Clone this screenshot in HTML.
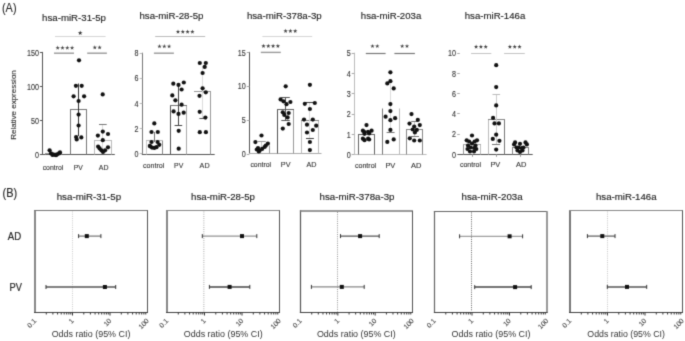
<!DOCTYPE html>
<html><head><meta charset="utf-8"><style>
html,body{margin:0;padding:0;background:#fff;}
body{width:685px;height:341px;overflow:hidden;}
svg{display:block;font-family:"Liberation Sans", sans-serif;}
#w{filter:grayscale(1);width:685px;height:341px;}
text{stroke:#333;stroke-width:0.3px;}
</style></head><body>
<div id="w"><svg width="685" height="341" viewBox="0 0 685 341">
<defs><filter id="bl" x="0" y="0" width="685" height="341" filterUnits="userSpaceOnUse" color-interpolation-filters="sRGB"><feConvolveMatrix order="3" kernelMatrix="0.0192 0.1001 0.0192 0.1001 0.5228 0.1001 0.0192 0.1001 0.0192" divisor="1" preserveAlpha="false" edgeMode="duplicate"/></filter></defs>
<rect width="685" height="341" fill="#fff"/>
<g filter="url(#bl)">
<rect width="685" height="341" fill="#fff"/>
<text x="2.00" y="12.30" font-size="12.8" text-anchor="start" fill="#222" style="stroke-width:0.08px" textLength="14.50" lengthAdjust="spacingAndGlyphs" >(A)</text>
<text x="42.10" y="20.50" font-size="9.9" text-anchor="start" fill="#1a1a1a" style="stroke-width:0.15px" textLength="63.90" lengthAdjust="spacingAndGlyphs" >hsa-miR-31-5p</text>
<text x="139.40" y="19.30" font-size="9.9" text-anchor="start" fill="#1a1a1a" style="stroke-width:0.15px" textLength="64.10" lengthAdjust="spacingAndGlyphs" >hsa-miR-28-5p</text>
<text x="246.90" y="19.20" font-size="9.9" text-anchor="start" fill="#1a1a1a" style="stroke-width:0.15px" textLength="74.80" lengthAdjust="spacingAndGlyphs" >hsa-miR-378a-3p</text>
<text x="360.80" y="19.40" font-size="9.9" text-anchor="start" fill="#1a1a1a" style="stroke-width:0.15px" textLength="60.50" lengthAdjust="spacingAndGlyphs" >hsa-miR-203a</text>
<text x="464.70" y="19.30" font-size="9.9" text-anchor="start" fill="#1a1a1a" style="stroke-width:0.15px" textLength="60.60" lengthAdjust="spacingAndGlyphs" >hsa-miR-146a</text>
<text x="0" y="0" font-size="8" fill="#333" text-anchor="middle" style="stroke-width:0.12px" transform="translate(15.8,105) rotate(-90)" textLength="69.5" lengthAdjust="spacingAndGlyphs">Relative expression</text>
<line x1="42.50" y1="154.30" x2="42.50" y2="51.90" stroke="#555" stroke-width="1" />
<line x1="39.90" y1="154.50" x2="42.50" y2="154.50" stroke="#555" stroke-width="1" />
<text x="39.00" y="157.60" font-size="9.2" text-anchor="end" fill="#333" style="stroke-width:0.12px" textLength="4.00" lengthAdjust="spacingAndGlyphs" >0</text>
<line x1="39.90" y1="120.50" x2="42.50" y2="120.50" stroke="#555" stroke-width="1" />
<text x="39.00" y="123.60" font-size="9.2" text-anchor="end" fill="#333" style="stroke-width:0.12px" textLength="8.00" lengthAdjust="spacingAndGlyphs" >50</text>
<line x1="39.90" y1="86.50" x2="42.50" y2="86.50" stroke="#555" stroke-width="1" />
<text x="39.00" y="89.60" font-size="9.2" text-anchor="end" fill="#333" style="stroke-width:0.12px" textLength="12.00" lengthAdjust="spacingAndGlyphs" >100</text>
<line x1="39.90" y1="52.50" x2="42.50" y2="52.50" stroke="#555" stroke-width="1" />
<text x="39.00" y="55.60" font-size="9.2" text-anchor="end" fill="#333" style="stroke-width:0.12px" textLength="12.00" lengthAdjust="spacingAndGlyphs" >150</text>
<line x1="42.00" y1="154.50" x2="114.80" y2="154.50" stroke="#555" stroke-width="1" />
<line x1="45.50" y1="153.50" x2="45.50" y2="154.50" stroke="#999" stroke-width="1" />
<line x1="61.50" y1="153.50" x2="61.50" y2="154.50" stroke="#999" stroke-width="1" />
<line x1="45.00" y1="153.50" x2="62.00" y2="153.50" stroke="#999" stroke-width="1" />
<line x1="70.50" y1="109.50" x2="70.50" y2="154.50" stroke="#777" stroke-width="1" />
<line x1="86.50" y1="109.50" x2="86.50" y2="154.50" stroke="#777" stroke-width="1" />
<line x1="70.00" y1="109.50" x2="87.00" y2="109.50" stroke="#777" stroke-width="1" />
<line x1="94.50" y1="140.50" x2="94.50" y2="154.50" stroke="#bbb" stroke-width="1" />
<line x1="111.50" y1="140.50" x2="111.50" y2="154.50" stroke="#bbb" stroke-width="1" />
<line x1="94.00" y1="140.50" x2="112.00" y2="140.50" stroke="#bbb" stroke-width="1" />
<line x1="78.50" y1="83.50" x2="78.50" y2="136.00" stroke="#333" stroke-width="1" />
<line x1="102.50" y1="124.30" x2="102.50" y2="154.00" stroke="#ddd" stroke-width="1" />
<line x1="99.00" y1="124.50" x2="106.70" y2="124.50" stroke="#777" stroke-width="1" />
<line x1="55.00" y1="36.50" x2="105.60" y2="36.50" stroke="#d0d0d0" stroke-width="0.9" />
<polygon points="80.20,30.50 80.79,32.19 82.58,32.23 81.15,33.31 81.67,35.02 80.20,34.00 78.73,35.02 79.25,33.31 77.82,32.23 79.61,32.19" fill="#333"/>
<line x1="54.00" y1="53.20" x2="74.00" y2="53.20" stroke="#999" stroke-width="1.4" />
<polygon points="57.70,45.60 58.23,47.17 59.89,47.19 58.56,48.18 59.05,49.76 57.70,48.80 56.35,49.76 56.84,48.18 55.51,47.19 57.17,47.17" fill="#444"/>
<polygon points="62.50,45.60 63.03,47.17 64.69,47.19 63.36,48.18 63.85,49.76 62.50,48.80 61.15,49.76 61.64,48.18 60.31,47.19 61.97,47.17" fill="#444"/>
<polygon points="67.30,45.60 67.83,47.17 69.49,47.19 68.16,48.18 68.65,49.76 67.30,48.80 65.95,49.76 66.44,48.18 65.11,47.19 66.77,47.17" fill="#444"/>
<polygon points="72.10,45.60 72.63,47.17 74.29,47.19 72.96,48.18 73.45,49.76 72.10,48.80 70.75,49.76 71.24,48.18 69.91,47.19 71.57,47.17" fill="#444"/>
<line x1="87.20" y1="53.20" x2="106.90" y2="53.20" stroke="#999" stroke-width="1.4" />
<polygon points="94.80,45.20 95.33,46.77 96.99,46.79 95.66,47.78 96.15,49.36 94.80,48.40 93.45,49.36 93.94,47.78 92.61,46.79 94.27,46.77" fill="#444"/>
<polygon points="99.60,45.20 100.13,46.77 101.79,46.79 100.46,47.78 100.95,49.36 99.60,48.40 98.25,49.36 98.74,47.78 97.41,46.79 99.07,46.77" fill="#444"/>
<circle cx="79.00" cy="60.30" r="2.1" fill="#111"/>
<circle cx="75.90" cy="85.80" r="2.1" fill="#111"/>
<circle cx="81.70" cy="85.80" r="2.1" fill="#111"/>
<circle cx="73.60" cy="96.30" r="2.1" fill="#111"/>
<circle cx="84.10" cy="96.30" r="2.1" fill="#111"/>
<circle cx="78.60" cy="101.00" r="2.1" fill="#111"/>
<circle cx="78.60" cy="114.60" r="2.1" fill="#111"/>
<circle cx="78.60" cy="125.50" r="2.1" fill="#111"/>
<circle cx="76.10" cy="137.10" r="2.1" fill="#111"/>
<circle cx="76.70" cy="139.40" r="2.1" fill="#111"/>
<circle cx="81.30" cy="137.40" r="2.1" fill="#111"/>
<circle cx="102.70" cy="94.40" r="2.1" fill="#111"/>
<circle cx="102.80" cy="131.60" r="2.1" fill="#111"/>
<circle cx="97.90" cy="135.60" r="2.1" fill="#111"/>
<circle cx="108.00" cy="134.00" r="2.1" fill="#111"/>
<circle cx="102.80" cy="140.20" r="2.1" fill="#111"/>
<circle cx="98.10" cy="146.60" r="2.1" fill="#111"/>
<circle cx="99.60" cy="148.40" r="2.1" fill="#111"/>
<circle cx="101.40" cy="150.30" r="2.1" fill="#111"/>
<circle cx="103.00" cy="151.90" r="2.1" fill="#111"/>
<circle cx="105.10" cy="150.30" r="2.1" fill="#111"/>
<circle cx="108.00" cy="147.30" r="2.1" fill="#111"/>
<circle cx="49.60" cy="150.30" r="2.1" fill="#111"/>
<circle cx="51.00" cy="153.40" r="2.1" fill="#111"/>
<circle cx="53.00" cy="154.40" r="2.1" fill="#111"/>
<circle cx="55.00" cy="154.80" r="2.1" fill="#111"/>
<circle cx="57.00" cy="154.40" r="2.1" fill="#111"/>
<circle cx="59.00" cy="153.40" r="2.1" fill="#111"/>
<circle cx="60.00" cy="152.40" r="2.1" fill="#111"/>
<circle cx="52.50" cy="155.00" r="2.1" fill="#111"/>
<circle cx="56.00" cy="155.20" r="2.1" fill="#111"/>
<text x="53.00" y="169.90" font-size="7.7" text-anchor="middle" fill="#333" style="stroke-width:0.12px" textLength="20.60" lengthAdjust="spacingAndGlyphs" >control</text>
<text x="78.25" y="169.90" font-size="7.7" text-anchor="middle" fill="#333" style="stroke-width:0.12px" textLength="9.10" lengthAdjust="spacingAndGlyphs" >PV</text>
<text x="103.65" y="169.90" font-size="7.7" text-anchor="middle" fill="#333" style="stroke-width:0.12px" textLength="9.70" lengthAdjust="spacingAndGlyphs" >AD</text>
<line x1="142.50" y1="154.30" x2="142.50" y2="52.70" stroke="#777" stroke-width="1" />
<line x1="139.70" y1="153.50" x2="142.30" y2="153.50" stroke="#bbb" stroke-width="1" />
<text x="138.60" y="156.60" font-size="9.2" text-anchor="end" fill="#333" style="stroke-width:0.12px" textLength="4.00" lengthAdjust="spacingAndGlyphs" >0</text>
<line x1="139.70" y1="128.50" x2="142.30" y2="128.50" stroke="#bbb" stroke-width="1" />
<text x="138.60" y="131.55" font-size="9.2" text-anchor="end" fill="#333" style="stroke-width:0.12px" textLength="4.00" lengthAdjust="spacingAndGlyphs" >2</text>
<line x1="139.70" y1="103.50" x2="142.30" y2="103.50" stroke="#bbb" stroke-width="1" />
<text x="138.60" y="106.50" font-size="9.2" text-anchor="end" fill="#333" style="stroke-width:0.12px" textLength="4.00" lengthAdjust="spacingAndGlyphs" >4</text>
<line x1="139.70" y1="78.50" x2="142.30" y2="78.50" stroke="#bbb" stroke-width="1" />
<text x="138.60" y="81.45" font-size="9.2" text-anchor="end" fill="#333" style="stroke-width:0.12px" textLength="4.00" lengthAdjust="spacingAndGlyphs" >6</text>
<line x1="139.70" y1="53.50" x2="142.30" y2="53.50" stroke="#bbb" stroke-width="1" />
<text x="138.60" y="56.40" font-size="9.2" text-anchor="end" fill="#333" style="stroke-width:0.12px" textLength="4.00" lengthAdjust="spacingAndGlyphs" >8</text>
<line x1="141.80" y1="154.50" x2="214.70" y2="154.50" stroke="#555" stroke-width="1" />
<line x1="146.50" y1="140.50" x2="146.50" y2="154.50" stroke="#ccc" stroke-width="1" />
<line x1="162.50" y1="140.50" x2="162.50" y2="154.50" stroke="#888" stroke-width="1" />
<line x1="146.00" y1="140.50" x2="163.00" y2="140.50" stroke="#bbb" stroke-width="1" />
<line x1="170.50" y1="105.50" x2="170.50" y2="154.50" stroke="#555" stroke-width="1" />
<line x1="186.50" y1="105.50" x2="186.50" y2="154.50" stroke="#aaa" stroke-width="1" />
<line x1="170.00" y1="105.50" x2="187.00" y2="105.50" stroke="#777" stroke-width="1" />
<line x1="210.50" y1="91.50" x2="210.50" y2="154.50" stroke="#999" stroke-width="1" />
<line x1="194.00" y1="91.50" x2="211.00" y2="91.50" stroke="#999" stroke-width="1" />
<line x1="154.50" y1="132.00" x2="154.50" y2="142.00" stroke="#777" stroke-width="1" />
<line x1="178.50" y1="84.00" x2="178.50" y2="125.50" stroke="#444" stroke-width="1" />
<line x1="202.50" y1="66.00" x2="202.50" y2="118.20" stroke="#ddd" stroke-width="1" />
<line x1="174.60" y1="125.50" x2="182.20" y2="125.50" stroke="#444" stroke-width="1" />
<line x1="199.40" y1="118.50" x2="205.40" y2="118.50" stroke="#555" stroke-width="1" />
<line x1="155.20" y1="36.50" x2="205.20" y2="36.50" stroke="#bbb" stroke-width="1.0" />
<polygon points="178.00,29.50 178.53,31.07 180.19,31.09 178.86,32.08 179.35,33.66 178.00,32.70 176.65,33.66 177.14,32.08 175.81,31.09 177.47,31.07" fill="#444"/>
<polygon points="182.80,29.50 183.33,31.07 184.99,31.09 183.66,32.08 184.15,33.66 182.80,32.70 181.45,33.66 181.94,32.08 180.61,31.09 182.27,31.07" fill="#444"/>
<polygon points="187.60,29.50 188.13,31.07 189.79,31.09 188.46,32.08 188.95,33.66 187.60,32.70 186.25,33.66 186.74,32.08 185.41,31.09 187.07,31.07" fill="#444"/>
<polygon points="192.40,29.50 192.93,31.07 194.59,31.09 193.26,32.08 193.75,33.66 192.40,32.70 191.05,33.66 191.54,32.08 190.21,31.09 191.87,31.07" fill="#444"/>
<line x1="153.90" y1="53.20" x2="173.90" y2="53.20" stroke="#999" stroke-width="1.4" />
<polygon points="159.50,44.10 160.03,45.67 161.69,45.69 160.36,46.68 160.85,48.26 159.50,47.30 158.15,48.26 158.64,46.68 157.31,45.69 158.97,45.67" fill="#444"/>
<polygon points="164.30,44.10 164.83,45.67 166.49,45.69 165.16,46.68 165.65,48.26 164.30,47.30 162.95,48.26 163.44,46.68 162.11,45.69 163.77,45.67" fill="#444"/>
<polygon points="169.10,44.10 169.63,45.67 171.29,45.69 169.96,46.68 170.45,48.26 169.10,47.30 167.75,48.26 168.24,46.68 166.91,45.69 168.57,45.67" fill="#444"/>
<circle cx="173.30" cy="83.70" r="2.1" fill="#111"/>
<circle cx="178.50" cy="84.90" r="2.1" fill="#111"/>
<circle cx="183.80" cy="82.50" r="2.1" fill="#111"/>
<circle cx="181.60" cy="89.50" r="2.1" fill="#111"/>
<circle cx="172.30" cy="95.40" r="2.1" fill="#111"/>
<circle cx="175.40" cy="100.30" r="2.1" fill="#111"/>
<circle cx="181.60" cy="104.70" r="2.1" fill="#111"/>
<circle cx="173.60" cy="111.40" r="2.1" fill="#111"/>
<circle cx="178.50" cy="113.90" r="2.1" fill="#111"/>
<circle cx="183.70" cy="112.70" r="2.1" fill="#111"/>
<circle cx="178.70" cy="130.80" r="2.1" fill="#111"/>
<circle cx="178.70" cy="148.70" r="2.1" fill="#111"/>
<circle cx="199.80" cy="63.00" r="2.1" fill="#111"/>
<circle cx="205.80" cy="63.00" r="2.1" fill="#111"/>
<circle cx="204.70" cy="66.90" r="2.1" fill="#111"/>
<circle cx="202.60" cy="73.00" r="2.1" fill="#111"/>
<circle cx="202.60" cy="88.30" r="2.1" fill="#111"/>
<circle cx="205.80" cy="92.30" r="2.1" fill="#111"/>
<circle cx="199.50" cy="95.80" r="2.1" fill="#111"/>
<circle cx="199.70" cy="111.80" r="2.1" fill="#111"/>
<circle cx="205.40" cy="117.60" r="2.1" fill="#111"/>
<circle cx="199.80" cy="132.20" r="2.1" fill="#111"/>
<circle cx="205.90" cy="132.20" r="2.1" fill="#111"/>
<circle cx="154.30" cy="123.40" r="2.1" fill="#111"/>
<circle cx="151.50" cy="132.00" r="2.1" fill="#111"/>
<circle cx="157.80" cy="132.00" r="2.1" fill="#111"/>
<circle cx="151.50" cy="142.00" r="2.1" fill="#111"/>
<circle cx="157.60" cy="142.00" r="2.1" fill="#111"/>
<circle cx="149.80" cy="145.90" r="2.1" fill="#111"/>
<circle cx="159.30" cy="144.80" r="2.1" fill="#111"/>
<circle cx="152.00" cy="147.60" r="2.1" fill="#111"/>
<circle cx="154.30" cy="147.90" r="2.1" fill="#111"/>
<circle cx="156.50" cy="147.20" r="2.1" fill="#111"/>
<circle cx="150.40" cy="146.50" r="2.1" fill="#111"/>
<text x="153.65" y="167.60" font-size="7.7" text-anchor="middle" fill="#333" style="stroke-width:0.12px" textLength="21.30" lengthAdjust="spacingAndGlyphs" >control</text>
<text x="178.70" y="167.60" font-size="7.7" text-anchor="middle" fill="#333" style="stroke-width:0.12px" textLength="9.20" lengthAdjust="spacingAndGlyphs" >PV</text>
<text x="204.60" y="167.60" font-size="7.7" text-anchor="middle" fill="#333" style="stroke-width:0.12px" textLength="10.00" lengthAdjust="spacingAndGlyphs" >AD</text>
<line x1="249.50" y1="153.30" x2="249.50" y2="51.90" stroke="#555" stroke-width="1" />
<line x1="246.80" y1="154.50" x2="249.40" y2="154.50" stroke="#aaa" stroke-width="1" />
<text x="245.80" y="157.20" font-size="9.2" text-anchor="end" fill="#333" style="stroke-width:0.12px" textLength="4.00" lengthAdjust="spacingAndGlyphs" >0</text>
<line x1="246.80" y1="120.50" x2="249.40" y2="120.50" stroke="#aaa" stroke-width="1" />
<text x="245.80" y="123.33" font-size="9.2" text-anchor="end" fill="#333" style="stroke-width:0.12px" textLength="4.00" lengthAdjust="spacingAndGlyphs" >5</text>
<line x1="246.80" y1="86.50" x2="249.40" y2="86.50" stroke="#aaa" stroke-width="1" />
<text x="245.80" y="89.47" font-size="9.2" text-anchor="end" fill="#333" style="stroke-width:0.12px" textLength="8.00" lengthAdjust="spacingAndGlyphs" >10</text>
<line x1="246.80" y1="52.50" x2="249.40" y2="52.50" stroke="#aaa" stroke-width="1" />
<text x="245.80" y="55.60" font-size="9.2" text-anchor="end" fill="#333" style="stroke-width:0.12px" textLength="8.00" lengthAdjust="spacingAndGlyphs" >15</text>
<line x1="248.90" y1="153.50" x2="321.50" y2="153.50" stroke="#aaa" stroke-width="1" />
<line x1="269.50" y1="145.50" x2="269.50" y2="153.50" stroke="#999" stroke-width="1" />
<line x1="277.50" y1="109.50" x2="277.50" y2="153.50" stroke="#555" stroke-width="1" />
<line x1="293.50" y1="109.50" x2="293.50" y2="153.50" stroke="#999" stroke-width="1" />
<line x1="277.00" y1="109.50" x2="294.00" y2="109.50" stroke="#666" stroke-width="1" />
<line x1="301.50" y1="120.50" x2="301.50" y2="153.50" stroke="#bbb" stroke-width="1" />
<line x1="318.50" y1="120.50" x2="318.50" y2="153.50" stroke="#bbb" stroke-width="1" />
<line x1="301.00" y1="120.50" x2="319.00" y2="120.50" stroke="#888" stroke-width="1" />
<line x1="285.50" y1="97.30" x2="285.50" y2="120.30" stroke="#555" stroke-width="1" />
<line x1="309.50" y1="102.30" x2="309.50" y2="138.30" stroke="#ddd" stroke-width="1" />
<line x1="261.50" y1="141.00" x2="261.50" y2="148.00" stroke="#ccc" stroke-width="1" />
<line x1="281.30" y1="97.50" x2="289.80" y2="97.50" stroke="#555" stroke-width="1" />
<line x1="281.30" y1="120.50" x2="289.80" y2="120.50" stroke="#555" stroke-width="1" />
<line x1="304.80" y1="102.50" x2="314.80" y2="102.50" stroke="#444" stroke-width="1" />
<line x1="306.00" y1="138.50" x2="313.90" y2="138.50" stroke="#444" stroke-width="1" />
<line x1="257.60" y1="141.50" x2="265.80" y2="141.50" stroke="#999" stroke-width="1" />
<line x1="262.40" y1="36.50" x2="312.20" y2="36.50" stroke="#d0d0d0" stroke-width="0.9" />
<polygon points="285.60,28.80 286.13,30.37 287.79,30.39 286.46,31.38 286.95,32.96 285.60,32.00 284.25,32.96 284.74,31.38 283.41,30.39 285.07,30.37" fill="#444"/>
<polygon points="290.40,28.80 290.93,30.37 292.59,30.39 291.26,31.38 291.75,32.96 290.40,32.00 289.05,32.96 289.54,31.38 288.21,30.39 289.87,30.37" fill="#444"/>
<polygon points="295.20,28.80 295.73,30.37 297.39,30.39 296.06,31.38 296.55,32.96 295.20,32.00 293.85,32.96 294.34,31.38 293.01,30.39 294.67,30.37" fill="#444"/>
<line x1="260.80" y1="52.40" x2="280.80" y2="52.40" stroke="#999" stroke-width="1.4" />
<polygon points="263.50,43.80 264.03,45.37 265.69,45.39 264.36,46.38 264.85,47.96 263.50,47.00 262.15,47.96 262.64,46.38 261.31,45.39 262.97,45.37" fill="#444"/>
<polygon points="268.30,43.80 268.83,45.37 270.49,45.39 269.16,46.38 269.65,47.96 268.30,47.00 266.95,47.96 267.44,46.38 266.11,45.39 267.77,45.37" fill="#444"/>
<polygon points="273.10,43.80 273.63,45.37 275.29,45.39 273.96,46.38 274.45,47.96 273.10,47.00 271.75,47.96 272.24,46.38 270.91,45.39 272.57,45.37" fill="#444"/>
<polygon points="277.90,43.80 278.43,45.37 280.09,45.39 278.76,46.38 279.25,47.96 277.90,47.00 276.55,47.96 277.04,46.38 275.71,45.39 277.37,45.37" fill="#444"/>
<circle cx="285.70" cy="86.30" r="2.1" fill="#111"/>
<circle cx="280.60" cy="99.40" r="2.1" fill="#111"/>
<circle cx="283.50" cy="101.30" r="2.1" fill="#111"/>
<circle cx="286.50" cy="104.20" r="2.1" fill="#111"/>
<circle cx="290.40" cy="102.00" r="2.1" fill="#111"/>
<circle cx="282.80" cy="112.30" r="2.1" fill="#111"/>
<circle cx="288.70" cy="113.00" r="2.1" fill="#111"/>
<circle cx="284.30" cy="114.90" r="2.1" fill="#111"/>
<circle cx="287.60" cy="117.40" r="2.1" fill="#111"/>
<circle cx="288.70" cy="124.00" r="2.1" fill="#111"/>
<circle cx="282.80" cy="128.60" r="2.1" fill="#111"/>
<circle cx="309.90" cy="84.80" r="2.1" fill="#111"/>
<circle cx="304.80" cy="103.80" r="2.1" fill="#111"/>
<circle cx="314.80" cy="103.00" r="2.1" fill="#111"/>
<circle cx="309.90" cy="109.00" r="2.1" fill="#111"/>
<circle cx="304.00" cy="119.60" r="2.1" fill="#111"/>
<circle cx="312.80" cy="119.60" r="2.1" fill="#111"/>
<circle cx="307.00" cy="124.70" r="2.1" fill="#111"/>
<circle cx="316.20" cy="125.70" r="2.1" fill="#111"/>
<circle cx="312.80" cy="130.00" r="2.1" fill="#111"/>
<circle cx="307.00" cy="132.50" r="2.1" fill="#111"/>
<circle cx="309.90" cy="142.00" r="2.1" fill="#111"/>
<circle cx="309.90" cy="150.10" r="2.1" fill="#111"/>
<circle cx="261.50" cy="135.50" r="2.1" fill="#111"/>
<circle cx="255.40" cy="142.10" r="2.1" fill="#111"/>
<circle cx="267.90" cy="143.60" r="2.1" fill="#111"/>
<circle cx="258.00" cy="148.10" r="2.1" fill="#111"/>
<circle cx="256.80" cy="149.50" r="2.1" fill="#111"/>
<circle cx="259.70" cy="150.60" r="2.1" fill="#111"/>
<circle cx="262.10" cy="148.90" r="2.1" fill="#111"/>
<circle cx="264.60" cy="147.00" r="2.1" fill="#111"/>
<circle cx="265.80" cy="145.60" r="2.1" fill="#111"/>
<circle cx="258.80" cy="151.40" r="2.1" fill="#111"/>
<text x="260.75" y="166.60" font-size="7.7" text-anchor="middle" fill="#333" style="stroke-width:0.12px" textLength="20.70" lengthAdjust="spacingAndGlyphs" >control</text>
<text x="285.65" y="166.60" font-size="7.7" text-anchor="middle" fill="#333" style="stroke-width:0.12px" textLength="9.70" lengthAdjust="spacingAndGlyphs" >PV</text>
<text x="311.50" y="166.60" font-size="7.7" text-anchor="middle" fill="#333" style="stroke-width:0.12px" textLength="10.00" lengthAdjust="spacingAndGlyphs" >AD</text>
<line x1="354.50" y1="154.80" x2="354.50" y2="52.70" stroke="#bbb" stroke-width="1" />
<line x1="351.70" y1="154.50" x2="354.30" y2="154.50" stroke="#aaa" stroke-width="1" />
<text x="350.70" y="158.10" font-size="9.2" text-anchor="end" fill="#333" style="stroke-width:0.12px" textLength="4.00" lengthAdjust="spacingAndGlyphs" >0</text>
<line x1="351.70" y1="134.50" x2="354.30" y2="134.50" stroke="#aaa" stroke-width="1" />
<text x="350.70" y="137.76" font-size="9.2" text-anchor="end" fill="#333" style="stroke-width:0.12px" textLength="4.00" lengthAdjust="spacingAndGlyphs" >1</text>
<line x1="351.70" y1="114.50" x2="354.30" y2="114.50" stroke="#aaa" stroke-width="1" />
<text x="350.70" y="117.42" font-size="9.2" text-anchor="end" fill="#333" style="stroke-width:0.12px" textLength="4.00" lengthAdjust="spacingAndGlyphs" >2</text>
<line x1="351.70" y1="93.50" x2="354.30" y2="93.50" stroke="#aaa" stroke-width="1" />
<text x="350.70" y="97.08" font-size="9.2" text-anchor="end" fill="#333" style="stroke-width:0.12px" textLength="4.00" lengthAdjust="spacingAndGlyphs" >3</text>
<line x1="351.70" y1="73.50" x2="354.30" y2="73.50" stroke="#aaa" stroke-width="1" />
<text x="350.70" y="76.74" font-size="9.2" text-anchor="end" fill="#333" style="stroke-width:0.12px" textLength="4.00" lengthAdjust="spacingAndGlyphs" >4</text>
<line x1="351.70" y1="53.50" x2="354.30" y2="53.50" stroke="#aaa" stroke-width="1" />
<text x="350.70" y="56.40" font-size="9.2" text-anchor="end" fill="#333" style="stroke-width:0.12px" textLength="4.00" lengthAdjust="spacingAndGlyphs" >5</text>
<line x1="353.80" y1="154.50" x2="426.60" y2="154.50" stroke="#bbb" stroke-width="1.0" />
<line x1="358.50" y1="134.50" x2="358.50" y2="154.50" stroke="#666" stroke-width="1" />
<line x1="374.50" y1="134.50" x2="374.50" y2="154.50" stroke="#666" stroke-width="1" />
<line x1="358.00" y1="134.50" x2="375.00" y2="134.50" stroke="#666" stroke-width="1" />
<line x1="382.50" y1="108.50" x2="382.50" y2="154.50" stroke="#777" stroke-width="1" />
<line x1="399.50" y1="108.50" x2="399.50" y2="154.50" stroke="#bbb" stroke-width="1" />
<line x1="406.50" y1="129.50" x2="406.50" y2="154.50" stroke="#888" stroke-width="1" />
<line x1="422.50" y1="129.50" x2="422.50" y2="154.50" stroke="#888" stroke-width="1" />
<line x1="406.00" y1="129.50" x2="423.00" y2="129.50" stroke="#888" stroke-width="1" />
<line x1="390.50" y1="84.00" x2="390.50" y2="132.00" stroke="#ddd" stroke-width="1" />
<line x1="414.50" y1="121.30" x2="414.50" y2="136.60" stroke="#ccc" stroke-width="1" />
<line x1="386.60" y1="132.50" x2="394.60" y2="132.50" stroke="#777" stroke-width="1" />
<line x1="411.20" y1="121.50" x2="417.80" y2="121.50" stroke="#777" stroke-width="1" />
<line x1="411.00" y1="136.50" x2="419.00" y2="136.50" stroke="#777" stroke-width="1" />
<line x1="365.80" y1="53.50" x2="385.60" y2="53.50" stroke="#777" stroke-width="1.2" />
<polygon points="372.50,43.90 373.03,45.47 374.69,45.49 373.36,46.48 373.85,48.06 372.50,47.10 371.15,48.06 371.64,46.48 370.31,45.49 371.97,45.47" fill="#444"/>
<polygon points="377.30,43.90 377.83,45.47 379.49,45.49 378.16,46.48 378.65,48.06 377.30,47.10 375.95,48.06 376.44,46.48 375.11,45.49 376.77,45.47" fill="#444"/>
<line x1="394.40" y1="53.50" x2="414.90" y2="53.50" stroke="#777" stroke-width="1.2" />
<polygon points="402.20,43.90 402.73,45.47 404.39,45.49 403.06,46.48 403.55,48.06 402.20,47.10 400.85,48.06 401.34,46.48 400.01,45.49 401.67,45.47" fill="#444"/>
<polygon points="407.00,43.90 407.53,45.47 409.19,45.49 407.86,46.48 408.35,48.06 407.00,47.10 405.65,48.06 406.14,46.48 404.81,45.49 406.47,45.47" fill="#444"/>
<circle cx="390.40" cy="72.30" r="2.1" fill="#111"/>
<circle cx="390.40" cy="81.20" r="2.1" fill="#111"/>
<circle cx="387.30" cy="83.40" r="2.1" fill="#111"/>
<circle cx="393.70" cy="88.40" r="2.1" fill="#111"/>
<circle cx="390.40" cy="104.10" r="2.1" fill="#111"/>
<circle cx="390.40" cy="111.10" r="2.1" fill="#111"/>
<circle cx="385.60" cy="116.70" r="2.1" fill="#111"/>
<circle cx="395.10" cy="118.20" r="2.1" fill="#111"/>
<circle cx="390.40" cy="120.20" r="2.1" fill="#111"/>
<circle cx="390.40" cy="129.90" r="2.1" fill="#111"/>
<circle cx="387.30" cy="141.90" r="2.1" fill="#111"/>
<circle cx="393.70" cy="139.40" r="2.1" fill="#111"/>
<circle cx="366.50" cy="125.10" r="2.1" fill="#111"/>
<circle cx="362.90" cy="130.70" r="2.1" fill="#111"/>
<circle cx="364.50" cy="132.20" r="2.1" fill="#111"/>
<circle cx="368.10" cy="131.80" r="2.1" fill="#111"/>
<circle cx="371.60" cy="130.70" r="2.1" fill="#111"/>
<circle cx="369.20" cy="133.40" r="2.1" fill="#111"/>
<circle cx="364.50" cy="133.80" r="2.1" fill="#111"/>
<circle cx="362.90" cy="138.70" r="2.1" fill="#111"/>
<circle cx="364.50" cy="140.20" r="2.1" fill="#111"/>
<circle cx="368.10" cy="138.70" r="2.1" fill="#111"/>
<circle cx="369.20" cy="139.50" r="2.1" fill="#111"/>
<circle cx="411.50" cy="114.10" r="2.1" fill="#111"/>
<circle cx="417.80" cy="119.90" r="2.1" fill="#111"/>
<circle cx="409.50" cy="123.60" r="2.1" fill="#111"/>
<circle cx="419.80" cy="125.10" r="2.1" fill="#111"/>
<circle cx="414.20" cy="126.50" r="2.1" fill="#111"/>
<circle cx="412.70" cy="129.50" r="2.1" fill="#111"/>
<circle cx="416.80" cy="129.90" r="2.1" fill="#111"/>
<circle cx="414.90" cy="132.40" r="2.1" fill="#111"/>
<circle cx="409.80" cy="138.30" r="2.1" fill="#111"/>
<circle cx="414.20" cy="140.50" r="2.1" fill="#111"/>
<circle cx="419.80" cy="140.50" r="2.1" fill="#111"/>
<text x="365.55" y="167.50" font-size="7.7" text-anchor="middle" fill="#333" style="stroke-width:0.12px" textLength="21.30" lengthAdjust="spacingAndGlyphs" >control</text>
<text x="390.35" y="167.50" font-size="7.7" text-anchor="middle" fill="#333" style="stroke-width:0.12px" textLength="9.90" lengthAdjust="spacingAndGlyphs" >PV</text>
<text x="416.20" y="167.50" font-size="7.7" text-anchor="middle" fill="#333" style="stroke-width:0.12px" textLength="10.40" lengthAdjust="spacingAndGlyphs" >AD</text>
<line x1="457.20" y1="154.50" x2="459.80" y2="154.50" stroke="#aaa" stroke-width="1" />
<text x="456.00" y="157.50" font-size="9.2" text-anchor="end" fill="#333" style="stroke-width:0.12px" textLength="4.00" lengthAdjust="spacingAndGlyphs" >0</text>
<line x1="457.20" y1="134.50" x2="459.80" y2="134.50" stroke="#aaa" stroke-width="1" />
<text x="456.00" y="137.26" font-size="9.2" text-anchor="end" fill="#333" style="stroke-width:0.12px" textLength="4.00" lengthAdjust="spacingAndGlyphs" >2</text>
<line x1="457.20" y1="113.50" x2="459.80" y2="113.50" stroke="#aaa" stroke-width="1" />
<text x="456.00" y="117.02" font-size="9.2" text-anchor="end" fill="#333" style="stroke-width:0.12px" textLength="4.00" lengthAdjust="spacingAndGlyphs" >4</text>
<line x1="457.20" y1="93.50" x2="459.80" y2="93.50" stroke="#aaa" stroke-width="1" />
<text x="456.00" y="96.78" font-size="9.2" text-anchor="end" fill="#333" style="stroke-width:0.12px" textLength="4.00" lengthAdjust="spacingAndGlyphs" >6</text>
<line x1="457.20" y1="73.50" x2="459.80" y2="73.50" stroke="#aaa" stroke-width="1" />
<text x="456.00" y="76.54" font-size="9.2" text-anchor="end" fill="#333" style="stroke-width:0.12px" textLength="4.00" lengthAdjust="spacingAndGlyphs" >8</text>
<line x1="457.20" y1="53.50" x2="459.80" y2="53.50" stroke="#aaa" stroke-width="1" />
<text x="456.00" y="56.30" font-size="9.2" text-anchor="end" fill="#333" style="stroke-width:0.12px" textLength="8.00" lengthAdjust="spacingAndGlyphs" >10</text>
<line x1="457.60" y1="154.50" x2="532.70" y2="154.50" stroke="#555" stroke-width="1" />
<line x1="472.50" y1="154.30" x2="472.50" y2="156.80" stroke="#999" stroke-width="1" />
<line x1="496.50" y1="154.30" x2="496.50" y2="156.80" stroke="#999" stroke-width="1" />
<line x1="520.50" y1="154.30" x2="520.50" y2="156.80" stroke="#999" stroke-width="1" />
<line x1="463.50" y1="144.50" x2="463.50" y2="154.50" stroke="#999" stroke-width="1" />
<line x1="480.50" y1="144.50" x2="480.50" y2="154.50" stroke="#bbb" stroke-width="1" />
<line x1="463.00" y1="144.50" x2="481.00" y2="144.50" stroke="#aaa" stroke-width="1" />
<line x1="488.50" y1="119.50" x2="488.50" y2="154.50" stroke="#bbb" stroke-width="1" />
<line x1="504.50" y1="119.50" x2="504.50" y2="154.50" stroke="#777" stroke-width="1" />
<line x1="488.00" y1="119.50" x2="505.00" y2="119.50" stroke="#888" stroke-width="1" />
<line x1="512.50" y1="147.50" x2="512.50" y2="154.50" stroke="#888" stroke-width="1" />
<line x1="528.50" y1="147.50" x2="528.50" y2="154.50" stroke="#888" stroke-width="1" />
<line x1="512.00" y1="147.50" x2="529.00" y2="147.50" stroke="#888" stroke-width="1" />
<line x1="496.50" y1="94.40" x2="496.50" y2="144.10" stroke="#ccc" stroke-width="1" />
<line x1="492.50" y1="94.50" x2="500.10" y2="94.50" stroke="#bbb" stroke-width="1" />
<line x1="492.00" y1="144.50" x2="500.10" y2="144.50" stroke="#777" stroke-width="1" />
<line x1="471.10" y1="53.50" x2="491.30" y2="53.50" stroke="#c4c4c4" stroke-width="1.0" />
<polygon points="476.10,44.50 476.63,46.07 478.29,46.09 476.96,47.08 477.45,48.66 476.10,47.70 474.75,48.66 475.24,47.08 473.91,46.09 475.57,46.07" fill="#444"/>
<polygon points="480.90,44.50 481.43,46.07 483.09,46.09 481.76,47.08 482.25,48.66 480.90,47.70 479.55,48.66 480.04,47.08 478.71,46.09 480.37,46.07" fill="#444"/>
<polygon points="485.70,44.50 486.23,46.07 487.89,46.09 486.56,47.08 487.05,48.66 485.70,47.70 484.35,48.66 484.84,47.08 483.51,46.09 485.17,46.07" fill="#444"/>
<line x1="504.10" y1="53.50" x2="524.80" y2="53.50" stroke="#c4c4c4" stroke-width="1.0" />
<polygon points="509.90,44.50 510.43,46.07 512.09,46.09 510.76,47.08 511.25,48.66 509.90,47.70 508.55,48.66 509.04,47.08 507.71,46.09 509.37,46.07" fill="#444"/>
<polygon points="514.70,44.50 515.23,46.07 516.89,46.09 515.56,47.08 516.05,48.66 514.70,47.70 513.35,48.66 513.84,47.08 512.51,46.09 514.17,46.07" fill="#444"/>
<polygon points="519.50,44.50 520.03,46.07 521.69,46.09 520.36,47.08 520.85,48.66 519.50,47.70 518.15,48.66 518.64,47.08 517.31,46.09 518.97,46.07" fill="#444"/>
<circle cx="496.20" cy="65.20" r="2.1" fill="#111"/>
<circle cx="496.20" cy="87.10" r="2.1" fill="#111"/>
<circle cx="496.20" cy="105.40" r="2.1" fill="#111"/>
<circle cx="493.10" cy="117.90" r="2.1" fill="#111"/>
<circle cx="494.50" cy="123.40" r="2.1" fill="#111"/>
<circle cx="498.90" cy="123.40" r="2.1" fill="#111"/>
<circle cx="496.20" cy="134.70" r="2.1" fill="#111"/>
<circle cx="492.80" cy="138.90" r="2.1" fill="#111"/>
<circle cx="499.40" cy="140.80" r="2.1" fill="#111"/>
<circle cx="496.20" cy="149.60" r="2.1" fill="#111"/>
<circle cx="472.00" cy="135.50" r="2.1" fill="#111"/>
<circle cx="466.70" cy="140.30" r="2.1" fill="#111"/>
<circle cx="477.00" cy="140.30" r="2.1" fill="#111"/>
<circle cx="469.10" cy="141.50" r="2.1" fill="#111"/>
<circle cx="474.60" cy="141.50" r="2.1" fill="#111"/>
<circle cx="468.00" cy="145.50" r="2.1" fill="#111"/>
<circle cx="475.50" cy="145.50" r="2.1" fill="#111"/>
<circle cx="467.50" cy="149.00" r="2.1" fill="#111"/>
<circle cx="476.30" cy="149.00" r="2.1" fill="#111"/>
<circle cx="470.00" cy="151.50" r="2.1" fill="#111"/>
<circle cx="474.00" cy="151.50" r="2.1" fill="#111"/>
<circle cx="472.00" cy="143.50" r="2.1" fill="#111"/>
<circle cx="470.50" cy="147.50" r="2.1" fill="#111"/>
<circle cx="474.00" cy="148.00" r="2.1" fill="#111"/>
<circle cx="515.10" cy="142.40" r="2.1" fill="#111"/>
<circle cx="525.50" cy="142.40" r="2.1" fill="#111"/>
<circle cx="514.10" cy="144.40" r="2.1" fill="#111"/>
<circle cx="526.90" cy="144.40" r="2.1" fill="#111"/>
<circle cx="516.50" cy="147.50" r="2.1" fill="#111"/>
<circle cx="523.50" cy="147.50" r="2.1" fill="#111"/>
<circle cx="517.50" cy="150.50" r="2.1" fill="#111"/>
<circle cx="522.50" cy="150.50" r="2.1" fill="#111"/>
<circle cx="520.00" cy="152.00" r="2.1" fill="#111"/>
<circle cx="520.00" cy="143.80" r="2.1" fill="#111"/>
<circle cx="518.50" cy="147.50" r="2.1" fill="#111"/>
<circle cx="521.80" cy="148.20" r="2.1" fill="#111"/>
<text x="470.45" y="166.80" font-size="7.7" text-anchor="middle" fill="#333" style="stroke-width:0.12px" textLength="21.10" lengthAdjust="spacingAndGlyphs" >control</text>
<text x="495.35" y="166.80" font-size="7.7" text-anchor="middle" fill="#333" style="stroke-width:0.12px" textLength="9.90" lengthAdjust="spacingAndGlyphs" >PV</text>
<text x="521.20" y="166.80" font-size="7.7" text-anchor="middle" fill="#333" style="stroke-width:0.12px" textLength="10.40" lengthAdjust="spacingAndGlyphs" >AD</text>
<text x="2.60" y="196.70" font-size="12.8" text-anchor="start" fill="#222" style="stroke-width:0.15px" textLength="14.60" lengthAdjust="spacingAndGlyphs" >(B)</text>
<text x="7.80" y="239.60" font-size="11.2" text-anchor="start" fill="#222" style="stroke-width:0.22px" textLength="13.40" lengthAdjust="spacingAndGlyphs" >AD</text>
<text x="9.60" y="290.50" font-size="11.2" text-anchor="start" fill="#222" style="stroke-width:0.22px" textLength="12.40" lengthAdjust="spacingAndGlyphs" >PV</text>
<line x1="35.00" y1="210.00" x2="35.00" y2="313.00" stroke="#888" stroke-width="2" />
<line x1="34.00" y1="210.50" x2="148.00" y2="210.50" stroke="#777" stroke-width="1" />
<line x1="147.50" y1="210.50" x2="147.50" y2="313.00" stroke="#555" stroke-width="1" />
<line x1="34.00" y1="312.50" x2="148.00" y2="312.50" stroke="#444" stroke-width="1.1" />
<line x1="72.50" y1="211.50" x2="72.50" y2="311.50" stroke="#ccc" stroke-width="1" stroke-dasharray="1,1.2"/>
<line x1="46.29" y1="312.50" x2="46.29" y2="314.50" stroke="#333" stroke-width="1.0" />
<line x1="52.89" y1="312.50" x2="52.89" y2="314.50" stroke="#333" stroke-width="1.0" />
<line x1="57.58" y1="312.50" x2="57.58" y2="314.50" stroke="#333" stroke-width="1.0" />
<line x1="61.21" y1="312.50" x2="61.21" y2="314.50" stroke="#333" stroke-width="1.0" />
<line x1="64.18" y1="312.50" x2="64.18" y2="314.50" stroke="#333" stroke-width="1.0" />
<line x1="66.69" y1="312.50" x2="66.69" y2="314.50" stroke="#333" stroke-width="1.0" />
<line x1="68.87" y1="312.50" x2="68.87" y2="314.50" stroke="#333" stroke-width="1.0" />
<line x1="70.78" y1="312.50" x2="70.78" y2="314.50" stroke="#333" stroke-width="1.0" />
<line x1="72.50" y1="312.50" x2="72.50" y2="315.50" stroke="#333" stroke-width="1.0" />
<line x1="83.79" y1="312.50" x2="83.79" y2="314.50" stroke="#333" stroke-width="1.0" />
<line x1="90.39" y1="312.50" x2="90.39" y2="314.50" stroke="#333" stroke-width="1.0" />
<line x1="95.08" y1="312.50" x2="95.08" y2="314.50" stroke="#333" stroke-width="1.0" />
<line x1="98.71" y1="312.50" x2="98.71" y2="314.50" stroke="#333" stroke-width="1.0" />
<line x1="101.68" y1="312.50" x2="101.68" y2="314.50" stroke="#333" stroke-width="1.0" />
<line x1="104.19" y1="312.50" x2="104.19" y2="314.50" stroke="#333" stroke-width="1.0" />
<line x1="106.37" y1="312.50" x2="106.37" y2="314.50" stroke="#333" stroke-width="1.0" />
<line x1="108.28" y1="312.50" x2="108.28" y2="314.50" stroke="#333" stroke-width="1.0" />
<line x1="110.00" y1="312.50" x2="110.00" y2="315.50" stroke="#333" stroke-width="1.0" />
<line x1="121.29" y1="312.50" x2="121.29" y2="314.50" stroke="#333" stroke-width="1.0" />
<line x1="127.89" y1="312.50" x2="127.89" y2="314.50" stroke="#333" stroke-width="1.0" />
<line x1="132.58" y1="312.50" x2="132.58" y2="314.50" stroke="#333" stroke-width="1.0" />
<line x1="136.21" y1="312.50" x2="136.21" y2="314.50" stroke="#333" stroke-width="1.0" />
<line x1="139.18" y1="312.50" x2="139.18" y2="314.50" stroke="#333" stroke-width="1.0" />
<line x1="141.69" y1="312.50" x2="141.69" y2="314.50" stroke="#333" stroke-width="1.0" />
<line x1="143.87" y1="312.50" x2="143.87" y2="314.50" stroke="#333" stroke-width="1.0" />
<line x1="145.78" y1="312.50" x2="145.78" y2="314.50" stroke="#333" stroke-width="1.0" />
<text x="0" y="0" font-size="6.9" fill="#333" text-anchor="end" style="stroke-width:0.06px" transform="translate(36.80,321.40) rotate(-45)">0.1</text>
<text x="0" y="0" font-size="6.9" fill="#333" text-anchor="end" style="stroke-width:0.06px" transform="translate(74.30,321.40) rotate(-45)">1</text>
<text x="0" y="0" font-size="6.9" fill="#333" text-anchor="end" style="stroke-width:0.06px" transform="translate(111.80,321.40) rotate(-45)">10</text>
<text x="0" y="0" font-size="6.9" fill="#333" text-anchor="end" style="stroke-width:0.06px" transform="translate(149.30,321.40) rotate(-45)">100</text>
<text x="56.70" y="200.40" font-size="9.6" text-anchor="start" fill="#1a1a1a" style="stroke-width:0.16px" textLength="64.40" lengthAdjust="spacingAndGlyphs" >hsa-miR-31-5p</text>
<line x1="78.60" y1="236.10" x2="100.90" y2="236.10" stroke="#666" stroke-width="1.1" />
<line x1="78.60" y1="234.10" x2="78.60" y2="238.10" stroke="#333" stroke-width="1.0" />
<line x1="100.90" y1="234.10" x2="100.90" y2="238.10" stroke="#333" stroke-width="1.0" />
<rect x="84.80" y="234.10" width="4" height="4" fill="#111"/>
<line x1="46.00" y1="287.00" x2="115.70" y2="287.00" stroke="#555" stroke-width="1.7" />
<line x1="46.00" y1="285.00" x2="46.00" y2="289.00" stroke="#333" stroke-width="1.0" />
<line x1="115.70" y1="285.00" x2="115.70" y2="289.00" stroke="#333" stroke-width="1.0" />
<rect x="102.90" y="285.00" width="4" height="4" fill="#111"/>
<text x="51.70" y="336.80" font-size="8.6" text-anchor="start" fill="#333" style="stroke-width:0.0px" textLength="78.70" lengthAdjust="spacingAndGlyphs" >Odds ratio (95% CI)</text>
<line x1="167.00" y1="210.00" x2="167.00" y2="313.00" stroke="#888" stroke-width="2" />
<line x1="166.00" y1="210.50" x2="280.00" y2="210.50" stroke="#888" stroke-width="1" />
<line x1="279.50" y1="210.50" x2="279.50" y2="313.00" stroke="#555" stroke-width="1" />
<line x1="166.00" y1="312.50" x2="280.00" y2="312.50" stroke="#444" stroke-width="1.1" />
<line x1="203.80" y1="211.50" x2="203.80" y2="311.50" stroke="#c4c4c4" stroke-width="1.4" stroke-dasharray="1,1.2"/>
<line x1="178.29" y1="312.50" x2="178.29" y2="314.50" stroke="#333" stroke-width="1.0" />
<line x1="184.89" y1="312.50" x2="184.89" y2="314.50" stroke="#333" stroke-width="1.0" />
<line x1="189.58" y1="312.50" x2="189.58" y2="314.50" stroke="#333" stroke-width="1.0" />
<line x1="193.21" y1="312.50" x2="193.21" y2="314.50" stroke="#333" stroke-width="1.0" />
<line x1="196.18" y1="312.50" x2="196.18" y2="314.50" stroke="#333" stroke-width="1.0" />
<line x1="198.69" y1="312.50" x2="198.69" y2="314.50" stroke="#333" stroke-width="1.0" />
<line x1="200.87" y1="312.50" x2="200.87" y2="314.50" stroke="#333" stroke-width="1.0" />
<line x1="202.78" y1="312.50" x2="202.78" y2="314.50" stroke="#333" stroke-width="1.0" />
<line x1="204.50" y1="312.50" x2="204.50" y2="315.50" stroke="#333" stroke-width="1.0" />
<line x1="215.79" y1="312.50" x2="215.79" y2="314.50" stroke="#333" stroke-width="1.0" />
<line x1="222.39" y1="312.50" x2="222.39" y2="314.50" stroke="#333" stroke-width="1.0" />
<line x1="227.08" y1="312.50" x2="227.08" y2="314.50" stroke="#333" stroke-width="1.0" />
<line x1="230.71" y1="312.50" x2="230.71" y2="314.50" stroke="#333" stroke-width="1.0" />
<line x1="233.68" y1="312.50" x2="233.68" y2="314.50" stroke="#333" stroke-width="1.0" />
<line x1="236.19" y1="312.50" x2="236.19" y2="314.50" stroke="#333" stroke-width="1.0" />
<line x1="238.37" y1="312.50" x2="238.37" y2="314.50" stroke="#333" stroke-width="1.0" />
<line x1="240.28" y1="312.50" x2="240.28" y2="314.50" stroke="#333" stroke-width="1.0" />
<line x1="242.00" y1="312.50" x2="242.00" y2="315.50" stroke="#333" stroke-width="1.0" />
<line x1="253.29" y1="312.50" x2="253.29" y2="314.50" stroke="#333" stroke-width="1.0" />
<line x1="259.89" y1="312.50" x2="259.89" y2="314.50" stroke="#333" stroke-width="1.0" />
<line x1="264.58" y1="312.50" x2="264.58" y2="314.50" stroke="#333" stroke-width="1.0" />
<line x1="268.21" y1="312.50" x2="268.21" y2="314.50" stroke="#333" stroke-width="1.0" />
<line x1="271.18" y1="312.50" x2="271.18" y2="314.50" stroke="#333" stroke-width="1.0" />
<line x1="273.69" y1="312.50" x2="273.69" y2="314.50" stroke="#333" stroke-width="1.0" />
<line x1="275.87" y1="312.50" x2="275.87" y2="314.50" stroke="#333" stroke-width="1.0" />
<line x1="277.78" y1="312.50" x2="277.78" y2="314.50" stroke="#333" stroke-width="1.0" />
<text x="0" y="0" font-size="6.9" fill="#333" text-anchor="end" style="stroke-width:0.06px" transform="translate(168.80,321.40) rotate(-45)">0.1</text>
<text x="0" y="0" font-size="6.9" fill="#333" text-anchor="end" style="stroke-width:0.06px" transform="translate(206.30,321.40) rotate(-45)">1</text>
<text x="0" y="0" font-size="6.9" fill="#333" text-anchor="end" style="stroke-width:0.06px" transform="translate(243.80,321.40) rotate(-45)">10</text>
<text x="0" y="0" font-size="6.9" fill="#333" text-anchor="end" style="stroke-width:0.06px" transform="translate(281.30,321.40) rotate(-45)">100</text>
<text x="191.10" y="200.40" font-size="9.6" text-anchor="start" fill="#1a1a1a" style="stroke-width:0.16px" textLength="63.80" lengthAdjust="spacingAndGlyphs" >hsa-miR-28-5p</text>
<line x1="202.30" y1="236.10" x2="256.80" y2="236.10" stroke="#777" stroke-width="1.0" />
<line x1="202.30" y1="234.10" x2="202.30" y2="238.10" stroke="#333" stroke-width="1.0" />
<line x1="256.80" y1="234.10" x2="256.80" y2="238.10" stroke="#333" stroke-width="1.0" />
<rect x="240.00" y="234.10" width="4" height="4" fill="#111"/>
<line x1="209.40" y1="286.90" x2="249.80" y2="286.90" stroke="#444" stroke-width="1.5" />
<line x1="209.40" y1="284.90" x2="209.40" y2="288.90" stroke="#333" stroke-width="1.0" />
<line x1="249.80" y1="284.90" x2="249.80" y2="288.90" stroke="#333" stroke-width="1.0" />
<rect x="227.60" y="284.90" width="4" height="4" fill="#111"/>
<text x="183.80" y="336.80" font-size="8.6" text-anchor="start" fill="#333" style="stroke-width:0.0px" textLength="78.90" lengthAdjust="spacingAndGlyphs" >Odds ratio (95% CI)</text>
<line x1="300.50" y1="210.25" x2="300.50" y2="313.00" stroke="#555" stroke-width="1.2" />
<line x1="299.90" y1="211.00" x2="413.00" y2="211.00" stroke="#777" stroke-width="1.5" />
<line x1="412.50" y1="211.00" x2="412.50" y2="313.00" stroke="#555" stroke-width="1" />
<line x1="299.90" y1="312.50" x2="413.00" y2="312.50" stroke="#444" stroke-width="1.1" />
<line x1="337.50" y1="212.00" x2="337.50" y2="311.50" stroke="#999" stroke-width="1" stroke-dasharray="1,1.2"/>
<line x1="311.74" y1="312.50" x2="311.74" y2="314.50" stroke="#333" stroke-width="1.0" />
<line x1="318.31" y1="312.50" x2="318.31" y2="314.50" stroke="#333" stroke-width="1.0" />
<line x1="322.98" y1="312.50" x2="322.98" y2="314.50" stroke="#333" stroke-width="1.0" />
<line x1="326.59" y1="312.50" x2="326.59" y2="314.50" stroke="#333" stroke-width="1.0" />
<line x1="329.55" y1="312.50" x2="329.55" y2="314.50" stroke="#333" stroke-width="1.0" />
<line x1="332.05" y1="312.50" x2="332.05" y2="314.50" stroke="#333" stroke-width="1.0" />
<line x1="334.22" y1="312.50" x2="334.22" y2="314.50" stroke="#333" stroke-width="1.0" />
<line x1="336.13" y1="312.50" x2="336.13" y2="314.50" stroke="#333" stroke-width="1.0" />
<line x1="337.83" y1="312.50" x2="337.83" y2="315.50" stroke="#333" stroke-width="1.0" />
<line x1="349.07" y1="312.50" x2="349.07" y2="314.50" stroke="#333" stroke-width="1.0" />
<line x1="355.65" y1="312.50" x2="355.65" y2="314.50" stroke="#333" stroke-width="1.0" />
<line x1="360.31" y1="312.50" x2="360.31" y2="314.50" stroke="#333" stroke-width="1.0" />
<line x1="363.93" y1="312.50" x2="363.93" y2="314.50" stroke="#333" stroke-width="1.0" />
<line x1="366.88" y1="312.50" x2="366.88" y2="314.50" stroke="#333" stroke-width="1.0" />
<line x1="369.38" y1="312.50" x2="369.38" y2="314.50" stroke="#333" stroke-width="1.0" />
<line x1="371.55" y1="312.50" x2="371.55" y2="314.50" stroke="#333" stroke-width="1.0" />
<line x1="373.46" y1="312.50" x2="373.46" y2="314.50" stroke="#333" stroke-width="1.0" />
<line x1="375.17" y1="312.50" x2="375.17" y2="315.50" stroke="#333" stroke-width="1.0" />
<line x1="386.41" y1="312.50" x2="386.41" y2="314.50" stroke="#333" stroke-width="1.0" />
<line x1="392.98" y1="312.50" x2="392.98" y2="314.50" stroke="#333" stroke-width="1.0" />
<line x1="397.64" y1="312.50" x2="397.64" y2="314.50" stroke="#333" stroke-width="1.0" />
<line x1="401.26" y1="312.50" x2="401.26" y2="314.50" stroke="#333" stroke-width="1.0" />
<line x1="404.22" y1="312.50" x2="404.22" y2="314.50" stroke="#333" stroke-width="1.0" />
<line x1="406.72" y1="312.50" x2="406.72" y2="314.50" stroke="#333" stroke-width="1.0" />
<line x1="408.88" y1="312.50" x2="408.88" y2="314.50" stroke="#333" stroke-width="1.0" />
<line x1="410.79" y1="312.50" x2="410.79" y2="314.50" stroke="#333" stroke-width="1.0" />
<text x="0" y="0" font-size="6.9" fill="#333" text-anchor="end" style="stroke-width:0.06px" transform="translate(302.30,321.40) rotate(-45)">0.1</text>
<text x="0" y="0" font-size="6.9" fill="#333" text-anchor="end" style="stroke-width:0.06px" transform="translate(339.63,321.40) rotate(-45)">1</text>
<text x="0" y="0" font-size="6.9" fill="#333" text-anchor="end" style="stroke-width:0.06px" transform="translate(376.97,321.40) rotate(-45)">10</text>
<text x="0" y="0" font-size="6.9" fill="#333" text-anchor="end" style="stroke-width:0.06px" transform="translate(414.30,321.40) rotate(-45)">100</text>
<text x="319.50" y="200.40" font-size="9.6" text-anchor="start" fill="#1a1a1a" style="stroke-width:0.16px" textLength="75.00" lengthAdjust="spacingAndGlyphs" >hsa-miR-378a-3p</text>
<line x1="340.50" y1="236.10" x2="379.20" y2="236.10" stroke="#555" stroke-width="1.3" />
<line x1="340.50" y1="234.10" x2="340.50" y2="238.10" stroke="#333" stroke-width="1.0" />
<line x1="379.20" y1="234.10" x2="379.20" y2="238.10" stroke="#333" stroke-width="1.0" />
<rect x="358.10" y="234.10" width="4" height="4" fill="#111"/>
<line x1="311.40" y1="286.90" x2="364.20" y2="286.90" stroke="#888" stroke-width="1.1" />
<line x1="311.40" y1="284.90" x2="311.40" y2="288.90" stroke="#333" stroke-width="1.0" />
<line x1="364.20" y1="284.90" x2="364.20" y2="288.90" stroke="#333" stroke-width="1.0" />
<rect x="339.80" y="284.90" width="4" height="4" fill="#111"/>
<text x="316.90" y="336.80" font-size="8.6" text-anchor="start" fill="#333" style="stroke-width:0.0px" textLength="78.90" lengthAdjust="spacingAndGlyphs" >Odds ratio (95% CI)</text>
<line x1="434.50" y1="211.00" x2="434.50" y2="313.00" stroke="#666" stroke-width="1.2" />
<line x1="433.90" y1="211.50" x2="547.50" y2="211.50" stroke="#666" stroke-width="1" />
<line x1="547.00" y1="211.50" x2="547.00" y2="313.00" stroke="#999" stroke-width="2" />
<line x1="433.90" y1="312.50" x2="547.50" y2="312.50" stroke="#444" stroke-width="1.1" />
<line x1="471.50" y1="212.50" x2="471.50" y2="311.50" stroke="#666" stroke-width="1" stroke-dasharray="1,1.2"/>
<line x1="445.79" y1="312.50" x2="445.79" y2="314.50" stroke="#333" stroke-width="1.0" />
<line x1="452.39" y1="312.50" x2="452.39" y2="314.50" stroke="#333" stroke-width="1.0" />
<line x1="457.08" y1="312.50" x2="457.08" y2="314.50" stroke="#333" stroke-width="1.0" />
<line x1="460.71" y1="312.50" x2="460.71" y2="314.50" stroke="#333" stroke-width="1.0" />
<line x1="463.68" y1="312.50" x2="463.68" y2="314.50" stroke="#333" stroke-width="1.0" />
<line x1="466.19" y1="312.50" x2="466.19" y2="314.50" stroke="#333" stroke-width="1.0" />
<line x1="468.37" y1="312.50" x2="468.37" y2="314.50" stroke="#333" stroke-width="1.0" />
<line x1="470.28" y1="312.50" x2="470.28" y2="314.50" stroke="#333" stroke-width="1.0" />
<line x1="472.00" y1="312.50" x2="472.00" y2="315.50" stroke="#333" stroke-width="1.0" />
<line x1="483.29" y1="312.50" x2="483.29" y2="314.50" stroke="#333" stroke-width="1.0" />
<line x1="489.89" y1="312.50" x2="489.89" y2="314.50" stroke="#333" stroke-width="1.0" />
<line x1="494.58" y1="312.50" x2="494.58" y2="314.50" stroke="#333" stroke-width="1.0" />
<line x1="498.21" y1="312.50" x2="498.21" y2="314.50" stroke="#333" stroke-width="1.0" />
<line x1="501.18" y1="312.50" x2="501.18" y2="314.50" stroke="#333" stroke-width="1.0" />
<line x1="503.69" y1="312.50" x2="503.69" y2="314.50" stroke="#333" stroke-width="1.0" />
<line x1="505.87" y1="312.50" x2="505.87" y2="314.50" stroke="#333" stroke-width="1.0" />
<line x1="507.78" y1="312.50" x2="507.78" y2="314.50" stroke="#333" stroke-width="1.0" />
<line x1="509.50" y1="312.50" x2="509.50" y2="315.50" stroke="#333" stroke-width="1.0" />
<line x1="520.79" y1="312.50" x2="520.79" y2="314.50" stroke="#333" stroke-width="1.0" />
<line x1="527.39" y1="312.50" x2="527.39" y2="314.50" stroke="#333" stroke-width="1.0" />
<line x1="532.08" y1="312.50" x2="532.08" y2="314.50" stroke="#333" stroke-width="1.0" />
<line x1="535.71" y1="312.50" x2="535.71" y2="314.50" stroke="#333" stroke-width="1.0" />
<line x1="538.68" y1="312.50" x2="538.68" y2="314.50" stroke="#333" stroke-width="1.0" />
<line x1="541.19" y1="312.50" x2="541.19" y2="314.50" stroke="#333" stroke-width="1.0" />
<line x1="543.37" y1="312.50" x2="543.37" y2="314.50" stroke="#333" stroke-width="1.0" />
<line x1="545.28" y1="312.50" x2="545.28" y2="314.50" stroke="#333" stroke-width="1.0" />
<text x="0" y="0" font-size="6.9" fill="#333" text-anchor="end" style="stroke-width:0.06px" transform="translate(436.30,321.40) rotate(-45)">0.1</text>
<text x="0" y="0" font-size="6.9" fill="#333" text-anchor="end" style="stroke-width:0.06px" transform="translate(473.80,321.40) rotate(-45)">1</text>
<text x="0" y="0" font-size="6.9" fill="#333" text-anchor="end" style="stroke-width:0.06px" transform="translate(511.30,321.40) rotate(-45)">10</text>
<text x="0" y="0" font-size="6.9" fill="#333" text-anchor="end" style="stroke-width:0.06px" transform="translate(548.80,321.40) rotate(-45)">100</text>
<text x="461.60" y="200.40" font-size="9.6" text-anchor="start" fill="#1a1a1a" style="stroke-width:0.16px" textLength="61.00" lengthAdjust="spacingAndGlyphs" >hsa-miR-203a</text>
<line x1="459.60" y1="236.30" x2="522.60" y2="236.30" stroke="#888" stroke-width="1.0" />
<line x1="459.60" y1="234.30" x2="459.60" y2="238.30" stroke="#333" stroke-width="1.0" />
<line x1="522.60" y1="234.30" x2="522.60" y2="238.30" stroke="#333" stroke-width="1.0" />
<rect x="507.60" y="234.30" width="4" height="4" fill="#111"/>
<line x1="474.70" y1="287.10" x2="531.20" y2="287.10" stroke="#444" stroke-width="1.5" />
<line x1="474.70" y1="285.10" x2="474.70" y2="289.10" stroke="#333" stroke-width="1.0" />
<line x1="531.20" y1="285.10" x2="531.20" y2="289.10" stroke="#333" stroke-width="1.0" />
<rect x="513.10" y="285.10" width="4" height="4" fill="#111"/>
<text x="451.60" y="336.80" font-size="8.6" text-anchor="start" fill="#333" style="stroke-width:0.0px" textLength="78.90" lengthAdjust="spacingAndGlyphs" >Odds ratio (95% CI)</text>
<line x1="570.00" y1="210.00" x2="570.00" y2="313.00" stroke="#777" stroke-width="2" />
<line x1="569.00" y1="210.50" x2="683.00" y2="210.50" stroke="#888" stroke-width="1" />
<line x1="682.50" y1="210.50" x2="682.50" y2="313.00" stroke="#555" stroke-width="1" />
<line x1="569.00" y1="312.50" x2="683.00" y2="312.50" stroke="#444" stroke-width="1.1" />
<line x1="607.50" y1="211.50" x2="607.50" y2="311.50" stroke="#c8c8c8" stroke-width="1" stroke-dasharray="1,1.2"/>
<line x1="581.29" y1="312.50" x2="581.29" y2="314.50" stroke="#333" stroke-width="1.0" />
<line x1="587.89" y1="312.50" x2="587.89" y2="314.50" stroke="#333" stroke-width="1.0" />
<line x1="592.58" y1="312.50" x2="592.58" y2="314.50" stroke="#333" stroke-width="1.0" />
<line x1="596.21" y1="312.50" x2="596.21" y2="314.50" stroke="#333" stroke-width="1.0" />
<line x1="599.18" y1="312.50" x2="599.18" y2="314.50" stroke="#333" stroke-width="1.0" />
<line x1="601.69" y1="312.50" x2="601.69" y2="314.50" stroke="#333" stroke-width="1.0" />
<line x1="603.87" y1="312.50" x2="603.87" y2="314.50" stroke="#333" stroke-width="1.0" />
<line x1="605.78" y1="312.50" x2="605.78" y2="314.50" stroke="#333" stroke-width="1.0" />
<line x1="607.50" y1="312.50" x2="607.50" y2="315.50" stroke="#333" stroke-width="1.0" />
<line x1="618.79" y1="312.50" x2="618.79" y2="314.50" stroke="#333" stroke-width="1.0" />
<line x1="625.39" y1="312.50" x2="625.39" y2="314.50" stroke="#333" stroke-width="1.0" />
<line x1="630.08" y1="312.50" x2="630.08" y2="314.50" stroke="#333" stroke-width="1.0" />
<line x1="633.71" y1="312.50" x2="633.71" y2="314.50" stroke="#333" stroke-width="1.0" />
<line x1="636.68" y1="312.50" x2="636.68" y2="314.50" stroke="#333" stroke-width="1.0" />
<line x1="639.19" y1="312.50" x2="639.19" y2="314.50" stroke="#333" stroke-width="1.0" />
<line x1="641.37" y1="312.50" x2="641.37" y2="314.50" stroke="#333" stroke-width="1.0" />
<line x1="643.28" y1="312.50" x2="643.28" y2="314.50" stroke="#333" stroke-width="1.0" />
<line x1="645.00" y1="312.50" x2="645.00" y2="315.50" stroke="#333" stroke-width="1.0" />
<line x1="656.29" y1="312.50" x2="656.29" y2="314.50" stroke="#333" stroke-width="1.0" />
<line x1="662.89" y1="312.50" x2="662.89" y2="314.50" stroke="#333" stroke-width="1.0" />
<line x1="667.58" y1="312.50" x2="667.58" y2="314.50" stroke="#333" stroke-width="1.0" />
<line x1="671.21" y1="312.50" x2="671.21" y2="314.50" stroke="#333" stroke-width="1.0" />
<line x1="674.18" y1="312.50" x2="674.18" y2="314.50" stroke="#333" stroke-width="1.0" />
<line x1="676.69" y1="312.50" x2="676.69" y2="314.50" stroke="#333" stroke-width="1.0" />
<line x1="678.87" y1="312.50" x2="678.87" y2="314.50" stroke="#333" stroke-width="1.0" />
<line x1="680.78" y1="312.50" x2="680.78" y2="314.50" stroke="#333" stroke-width="1.0" />
<text x="0" y="0" font-size="6.9" fill="#333" text-anchor="end" style="stroke-width:0.06px" transform="translate(571.80,321.40) rotate(-45)">0.1</text>
<text x="0" y="0" font-size="6.9" fill="#333" text-anchor="end" style="stroke-width:0.06px" transform="translate(609.30,321.40) rotate(-45)">1</text>
<text x="0" y="0" font-size="6.9" fill="#333" text-anchor="end" style="stroke-width:0.06px" transform="translate(646.80,321.40) rotate(-45)">10</text>
<text x="0" y="0" font-size="6.9" fill="#333" text-anchor="end" style="stroke-width:0.06px" transform="translate(684.30,321.40) rotate(-45)">100</text>
<text x="596.00" y="200.40" font-size="9.6" text-anchor="start" fill="#1a1a1a" style="stroke-width:0.16px" textLength="60.60" lengthAdjust="spacingAndGlyphs" >hsa-miR-146a</text>
<line x1="587.40" y1="236.10" x2="615.00" y2="236.10" stroke="#666" stroke-width="1.3" />
<line x1="587.40" y1="234.10" x2="587.40" y2="238.10" stroke="#333" stroke-width="1.0" />
<line x1="615.00" y1="234.10" x2="615.00" y2="238.10" stroke="#333" stroke-width="1.0" />
<rect x="600.30" y="234.10" width="4" height="4" fill="#111"/>
<line x1="607.30" y1="286.90" x2="646.70" y2="286.90" stroke="#555" stroke-width="1.5" />
<line x1="607.30" y1="284.90" x2="607.30" y2="288.90" stroke="#333" stroke-width="1.0" />
<line x1="646.70" y1="284.90" x2="646.70" y2="288.90" stroke="#333" stroke-width="1.0" />
<rect x="625.00" y="284.90" width="4" height="4" fill="#111"/>
<text x="587.30" y="336.80" font-size="8.6" text-anchor="start" fill="#333" style="stroke-width:0.0px" textLength="77.70" lengthAdjust="spacingAndGlyphs" >Odds ratio (95% CI)</text>
</g>
</svg></div>
</body></html>
